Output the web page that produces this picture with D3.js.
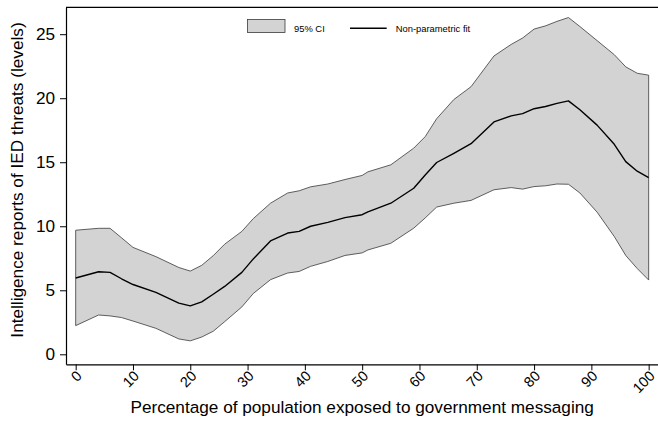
<!DOCTYPE html>
<html>
<head>
<meta charset="utf-8">
<script src="https://cdn.jsdelivr.net/npm/d3@7"></script>
<style>
  html, body { margin: 0; padding: 0; background: #fff; }
  svg { display: block; font-family: "Liberation Sans", Arial, Helvetica, sans-serif; }
</style>
</head>
<body>
<svg id="chart" width="658" height="429"></svg>
<script>
// Share of population exposed to government messaging (%)
const exposure = [0, 4, 6, 8, 10, 14, 18, 20, 22, 24, 26, 29, 31, 34, 37, 39, 41, 44, 47, 50,
                  51, 55, 59, 61, 63, 66, 69, 73, 76, 78, 80, 82, 84, 86, 88, 91, 94, 96, 98, 100];

// Non-parametric fit of IED threat reports
const fit = [5.96, 6.45, 6.40, 5.90, 5.45, 4.84, 4.00, 3.78, 4.10, 4.69, 5.30, 6.40, 7.45, 8.85, 9.47, 9.60, 10.00, 10.30, 10.67, 10.90,
             11.13, 11.80, 12.97, 14.00, 14.98, 15.70, 16.45, 18.15, 18.62, 18.80, 19.18, 19.35, 19.60, 19.79, 19.10, 17.90, 16.40, 15.05, 14.30, 13.80];

// 95% confidence band
const ciUpper = [9.69, 9.84, 9.84, 9.10, 8.35, 7.63, 6.78, 6.50, 6.95, 7.70, 8.60, 9.60, 10.60, 11.80, 12.60, 12.77, 13.08, 13.30, 13.65, 13.97,
                 14.25, 14.80, 16.10, 17.00, 18.40, 19.90, 20.90, 23.30, 24.20, 24.70, 25.40, 25.65, 26.00, 26.30, 25.60, 24.50, 23.40, 22.45, 21.95, 21.80];
const ciLower = [2.24, 3.07, 3.00, 2.87, 2.60, 2.03, 1.20, 1.05, 1.35, 1.80, 2.55, 3.70, 4.75, 5.83, 6.35, 6.47, 6.87, 7.25, 7.72, 7.92,
                 8.15, 8.67, 9.85, 10.65, 11.50, 11.80, 12.02, 12.85, 13.02, 12.90, 13.10, 13.16, 13.30, 13.28, 12.60, 11.10, 9.20, 7.72, 6.70, 5.80];

const xTicks = [0, 10, 20, 30, 40, 50, 60, 70, 80, 90, 100];
const yTicks = [0, 5, 10, 15, 20, 25];

const xTitle = "Percentage of population exposed to government messaging";
const yTitle = "Intelligence reports of IED threats (levels)";
const legendLabels = ["95% CI", "Non-parametric fit"];

const rows = exposure.map((x, i) => ({ x, fit: fit[i], lo: ciLower[i], hi: ciUpper[i] }));

const svg = d3.select("#chart");
const plot = { left: 66, right: 658.4, top: 7.3, bottom: 364.3 };

const x = d3.scaleLinear().domain([-1.69, 101.7]).range([plot.left, plot.right]);
const y = d3.scaleLinear().domain([-0.78, 27.1]).range([plot.bottom, plot.top]);

// Confidence band
const band = d3.area()
  .x(d => x(d.x))
  .y0(d => y(d.lo))
  .y1(d => y(d.hi));

svg.append("path")
  .datum(rows)
  .attr("d", band)
  .attr("fill", "#d3d3d3")
  .attr("stroke", "#3a3a3a")
  .attr("stroke-width", 0.8)
  .attr("stroke-linejoin", "round");

// Fitted line
const line = d3.line().x(d => x(d.x)).y(d => y(d.fit));
svg.append("path")
  .datum(rows)
  .attr("d", line)
  .attr("fill", "none")
  .attr("stroke", "#000")
  .attr("stroke-width", 1.4)
  .attr("stroke-linejoin", "round");

// Plot-region frame (top edge)
svg.append("line")
  .attr("x1", plot.left).attr("x2", plot.right)
  .attr("y1", plot.top).attr("y2", plot.top)
  .attr("stroke", "#000").attr("stroke-width", 1.2);

const labelFont = 17.2;
const xTickFont = 14.5;

// Y axis
const yAxis = svg.append("g")
  .attr("transform", `translate(${plot.left},0)`)
  .call(d3.axisLeft(y).tickValues(yTicks).tickSize(6).tickSizeOuter(0).tickPadding(5));
yAxis.select(".domain").attr("stroke", "#000").attr("stroke-width", 1.2);
yAxis.selectAll(".tick line").attr("stroke", "#000").attr("stroke-width", 1);
yAxis.selectAll(".tick text")
  .attr("font-family", "Liberation Sans, Arial, Helvetica, sans-serif")
  .attr("font-size", labelFont).attr("fill", "#000");

// X axis with slanted labels
const xAxis = svg.append("g")
  .attr("transform", `translate(0,${plot.bottom})`)
  .call(d3.axisBottom(x).tickValues(xTicks).tickSize(6).tickSizeOuter(0));
xAxis.select(".domain").attr("stroke", "#000").attr("stroke-width", 1.2);
xAxis.selectAll(".tick line").attr("stroke", "#000").attr("stroke-width", 1);
xAxis.selectAll(".tick text")
  .attr("font-family", "Liberation Sans, Arial, Helvetica, sans-serif")
  .attr("font-size", xTickFont).attr("fill", "#000")
  .attr("text-anchor", "end")
  .attr("x", 0).attr("y", 0).attr("dy", "0.35em")
  .attr("transform", "translate(3,9) rotate(-45)");

// Axis titles
svg.append("text")
  .attr("x", x(50)).attr("y", 413)
  .attr("text-anchor", "middle")
  .attr("font-size", labelFont)
  .text(xTitle);

svg.append("text")
  .attr("transform", "translate(23,180) rotate(-90)")
  .attr("text-anchor", "middle")
  .attr("font-size", labelFont)
  .text(yTitle);

// Legend
const lg = svg.append("g").attr("font-size", 9.4);
lg.append("rect")
  .attr("x", 247.5).attr("y", 19.5).attr("width", 37.5).attr("height", 13)
  .attr("fill", "#d3d3d3").attr("stroke", "#3a3a3a").attr("stroke-width", 0.8);
lg.append("text").attr("x", 294).attr("y", 28.3).attr("dy", "0.35em").text(legendLabels[0]);
lg.append("line")
  .attr("x1", 350).attr("x2", 386.7).attr("y1", 28.2).attr("y2", 28.2)
  .attr("stroke", "#000").attr("stroke-width", 1.4);
lg.append("text").attr("x", 395.7).attr("y", 28.3).attr("dy", "0.35em").text(legendLabels[1]);
</script>
</body>
</html>
